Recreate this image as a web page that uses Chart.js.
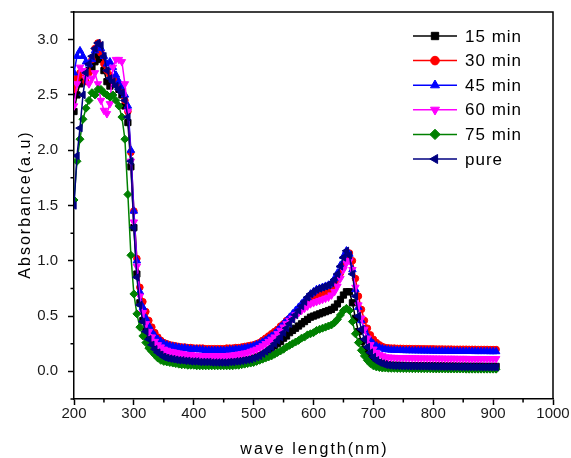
<!DOCTYPE html>
<html>
<head>
<meta charset="utf-8">
<script src="https://cdn.jsdelivr.net/npm/chart.js@4.4.1/dist/chart.umd.min.js"></script>
<style>
  html, body { margin: 0; padding: 0; background: #fff; }
  #wrap { width: 571px; height: 458px; }
</style>
</head>
<body>
<div id="wrap"><canvas id="spectra" width="571" height="458"></canvas></div>
<script>
// wavelength (nm), one reading every 5 nm
const wavelengths = [
  200,205,210,215,220,225,230,235,240,245,250,255,260,265,270,275,280,285,
  290,295,300,305,310,315,320,325,330,335,340,345,350,
  355,360,365,370,375,380,385,390,395,400,405,410,415,420,425,430,435,440,445,450,455,460,465,470,475,480,485,490,495,500,505,510,515,520,
  525,530,535,540,545,550,555,560,565,570,575,580,585,590,595,600,605,610,615,620,625,630,635,640,645,650,655,660,665,670,675,680,685,690,695,700,705,710,715,720,
  725,730,735,740,745,750,755,760,765,770,775,780,785,790,795,800,805,810,815,820,825,830,835,840,845,850,855,860,865,870,875,880,885,890,895,900,905
];

const min15 = [
  2.35,2.50,2.60,2.65,2.70,2.72,2.75,2.80,2.85,2.82,2.72,2.62,2.58,2.60,2.62,2.55,2.50,2.40,
  2.25,1.85,1.30,0.88,0.62,0.46,0.36,0.29,0.24,0.20,0.17,0.15,0.14,
  0.13,0.12,0.115,0.11,0.105,0.10,0.10,0.095,0.095,0.09,0.09,0.09,0.085,0.085,0.085,0.085,0.085,0.085,0.085,0.085,0.085,0.09,0.09,0.09,0.095,0.10,0.10,0.105,0.11,0.12,0.13,0.14,0.155,0.17,
  0.19,0.21,0.23,0.25,0.27,0.30,0.32,0.35,0.37,0.39,0.41,0.43,0.45,0.47,0.49,0.50,0.51,0.52,0.53,0.54,0.55,0.56,0.58,0.61,0.65,0.69,0.72,0.72,0.62,0.48,0.36,0.27,0.20,0.15,0.12,0.10,0.09,0.08,0.075,0.07,
  0.058,0.056,0.055,0.055,0.054,0.053,0.053,0.052,0.052,0.052,0.051,0.051,0.050,0.050,0.050,0.050,0.049,0.049,0.049,0.048,0.048,0.048,0.048,0.047,0.047,0.047,0.047,0.046,0.046,0.046,0.046,0.046,0.045,0.045,0.045,0.045,0.045
];

const min30 = [
  2.55,2.65,2.70,2.68,2.62,2.70,2.82,2.92,2.97,2.88,2.78,2.72,2.68,2.65,2.62,2.60,2.55,2.45,
  2.35,1.98,1.45,1.02,0.76,0.63,0.54,0.46,0.40,0.35,0.31,0.28,0.26,
  0.25,0.24,0.235,0.23,0.225,0.22,0.22,0.215,0.215,0.21,0.21,0.21,0.21,0.205,0.205,0.205,0.205,0.205,0.205,0.205,0.21,0.21,0.21,0.215,0.215,0.22,0.225,0.23,0.235,0.24,0.25,0.26,0.28,0.30,
  0.32,0.34,0.36,0.38,0.41,0.43,0.46,0.48,0.50,0.53,0.55,0.57,0.60,0.62,0.65,0.67,0.69,0.70,0.71,0.72,0.73,0.75,0.78,0.83,0.89,0.96,1.03,1.07,1.00,0.84,0.68,0.56,0.46,0.39,0.33,0.29,0.26,0.24,0.225,0.215,
  0.212,0.21,0.21,0.208,0.208,0.207,0.206,0.206,0.205,0.205,0.205,0.204,0.204,0.203,0.203,0.203,0.202,0.202,0.202,0.201,0.201,0.201,0.2,0.2,0.2,0.2,0.2,0.199,0.199,0.199,0.198,0.198,0.198,0.198,0.197,0.197,0.197
];

const min45 = [
  2.70,2.85,2.90,2.85,2.80,2.78,2.82,2.90,2.95,2.92,2.85,2.78,2.80,2.75,2.68,2.62,2.58,2.50,
  2.40,2.00,1.45,1.00,0.72,0.58,0.48,0.41,0.36,0.32,0.29,0.27,0.25,
  0.24,0.23,0.225,0.22,0.215,0.21,0.21,0.205,0.20,0.20,0.20,0.195,0.195,0.19,0.19,0.19,0.19,0.19,0.19,0.19,0.19,0.195,0.195,0.20,0.20,0.205,0.21,0.215,0.22,0.23,0.24,0.25,0.265,0.28,
  0.30,0.32,0.34,0.37,0.40,0.43,0.46,0.49,0.52,0.55,0.58,0.61,0.64,0.67,0.70,0.72,0.74,0.75,0.76,0.77,0.78,0.80,0.84,0.89,0.96,1.04,1.09,1.06,0.92,0.74,0.58,0.46,0.38,0.32,0.28,0.25,0.23,0.215,0.205,0.20,
  0.195,0.193,0.192,0.19,0.19,0.189,0.188,0.188,0.187,0.187,0.186,0.186,0.185,0.185,0.185,0.184,0.184,0.184,0.183,0.183,0.183,0.182,0.182,0.182,0.182,0.181,0.181,0.181,0.181,0.18,0.18,0.18,0.18,0.18,0.179,0.179,0.179
];

const min60 = [
  2.40,2.60,2.75,2.72,2.65,2.60,2.65,2.70,2.60,2.45,2.36,2.33,2.42,2.75,2.82,2.82,2.80,2.60,
  2.35,1.90,1.35,0.95,0.68,0.53,0.43,0.36,0.31,0.27,0.24,0.22,0.20,
  0.19,0.18,0.175,0.17,0.165,0.16,0.155,0.15,0.15,0.145,0.145,0.14,0.14,0.14,0.14,0.14,0.14,0.14,0.14,0.14,0.14,0.145,0.145,0.15,0.155,0.16,0.165,0.17,0.18,0.19,0.20,0.215,0.23,0.25,
  0.27,0.29,0.31,0.34,0.37,0.40,0.43,0.46,0.48,0.51,0.53,0.55,0.57,0.59,0.61,0.62,0.63,0.64,0.65,0.66,0.67,0.69,0.72,0.77,0.84,0.92,0.98,1.00,0.92,0.76,0.60,0.48,0.38,0.30,0.24,0.20,0.17,0.15,0.14,0.13,
  0.128,0.126,0.125,0.124,0.123,0.123,0.122,0.122,0.121,0.121,0.12,0.12,0.12,0.119,0.119,0.119,0.118,0.118,0.118,0.117,0.117,0.117,0.117,0.116,0.116,0.116,0.116,0.115,0.115,0.115,0.115,0.115,0.114,0.114,0.114,0.114,0.114
];

const min75 = [
  1.55,1.90,2.10,2.28,2.38,2.45,2.52,2.50,2.55,2.55,2.52,2.50,2.48,2.50,2.45,2.40,2.30,2.10,
  1.60,1.05,0.70,0.52,0.40,0.32,0.26,0.21,0.18,0.15,0.12,0.10,0.09,
  0.085,0.08,0.075,0.07,0.065,0.06,0.06,0.055,0.055,0.055,0.05,0.05,0.05,0.05,0.05,0.05,0.05,0.05,0.05,0.05,0.05,0.05,0.05,0.055,0.055,0.06,0.065,0.07,0.075,0.08,0.09,0.10,0.11,0.12,
  0.13,0.14,0.155,0.17,0.185,0.20,0.22,0.235,0.25,0.265,0.28,0.30,0.31,0.33,0.34,0.35,0.37,0.38,0.39,0.40,0.41,0.42,0.44,0.47,0.51,0.55,0.57,0.55,0.45,0.34,0.26,0.19,0.14,0.10,0.07,0.05,0.04,0.035,0.03,0.03,
  0.028,0.027,0.027,0.026,0.026,0.025,0.025,0.025,0.024,0.024,0.024,0.023,0.023,0.023,0.023,0.022,0.022,0.022,0.022,0.022,0.021,0.021,0.021,0.021,0.021,0.021,0.02,0.02,0.02,0.02,0.02,0.02,0.02,0.02,0.02,0.02,0.02
];

const pure = [
  1.50,1.95,2.20,2.50,2.70,2.78,2.85,2.92,2.97,2.95,2.85,2.72,2.65,2.62,2.58,2.55,2.52,2.45,
  2.30,1.90,1.30,0.85,0.60,0.45,0.36,0.29,0.24,0.20,0.17,0.15,0.13,
  0.12,0.115,0.11,0.105,0.10,0.10,0.095,0.095,0.09,0.09,0.09,0.085,0.085,0.085,0.085,0.08,0.08,0.08,0.08,0.08,0.08,0.085,0.085,0.09,0.09,0.095,0.10,0.105,0.11,0.12,0.13,0.14,0.16,0.18,
  0.20,0.22,0.25,0.28,0.31,0.35,0.39,0.43,0.47,0.51,0.55,0.59,0.63,0.67,0.70,0.72,0.74,0.75,0.76,0.77,0.78,0.80,0.83,0.88,0.95,1.03,1.09,1.05,0.88,0.68,0.50,0.38,0.29,0.22,0.17,0.13,0.10,0.08,0.07,0.06,
  0.055,0.052,0.05,0.05,0.049,0.048,0.048,0.047,0.046,0.046,0.045,0.045,0.045,0.044,0.044,0.043,0.043,0.043,0.042,0.042,0.042,0.041,0.041,0.041,0.04,0.04,0.04,0.04,0.039,0.039,0.039,0.038,0.038,0.038,0.038,0.037,0.037
];

const seriesNames = ['15 min', '30 min', '45 min', '60 min', '75 min', 'pure'];
const seriesValues = [min15, min30, min45, min60, min75, pure];

const xTickValues = [200, 300, 400, 500, 600, 700, 800, 900, 1000];
const xMinorValues = [250, 350, 450, 550, 650, 750, 850, 950];
const yTickValues = [0, 0.5, 1, 1.5, 2, 2.5, 3];
const yMinorValues = [-0.25, 0.25, 0.75, 1.25, 1.75, 2.25, 2.75, 3.25];

// Origin-like symbol for every series
const looks = [
  { color: '#000000', pointStyle: 'rect',     rotation: 0,   radius: 4.4 },
  { color: '#ff0000', pointStyle: 'circle',   rotation: 0,   radius: 3.3 },
  { color: '#0000ff', pointStyle: 'triangle', rotation: 0,   radius: 4.3 },
  { color: '#ff00ff', pointStyle: 'triangle', rotation: 180, radius: 4.3 },
  { color: '#008000', pointStyle: 'rectRot',  rotation: 0,   radius: 4.0 },
  { color: '#000080', pointStyle: 'triangle', rotation: -90, radius: 4.3 }
];

const FONT = '"Liberation Sans", Arial, sans-serif';

let datasets = seriesNames.map((name, i) => ({
  label: name,
  data: wavelengths.map((w, j) => ({ x: w, y: seriesValues[i][j] })),
  borderColor: looks[i].color,
  backgroundColor: looks[i].color,
  borderWidth: 1.5,
  pointStyle: looks[i].pointStyle,
  pointRotation: looks[i].rotation,
  pointRadius: looks[i].radius,
  pointBorderWidth: 1,
  pointBackgroundColor: looks[i].color,
  pointBorderColor: looks[i].color,
  tension: 0
}));
// first dataset is painted last in Chart.js, so put "pure" first to have it on top
datasets = datasets.reverse();

function drawSymbol(ctx, look, x, y, r) {
  ctx.fillStyle = look.color;
  ctx.strokeStyle = look.color;
  ctx.lineWidth = 1;
  if (Chart.helpers && Chart.helpers.drawPoint) {
    Chart.helpers.drawPoint(ctx, { pointStyle: look.pointStyle, rotation: look.rotation, radius: r, borderWidth: 1 }, x, y);
  }
}

const framePlugin = {
  id: 'frame',
  afterDraw(chart) {
    const { ctx, chartArea: a, scales } = chart;
    ctx.save();
    ctx.strokeStyle = '#000';
    ctx.lineWidth = 1.5;
    ctx.beginPath();
    ctx.moveTo(a.left, a.top);
    ctx.lineTo(a.right, a.top);
    ctx.lineTo(a.right, a.bottom);
    ctx.stroke();
    // minor ticks
    ctx.beginPath();
    xMinorValues.forEach(v => {
      const px = scales.x.getPixelForValue(v);
      ctx.moveTo(px, a.bottom);
      ctx.lineTo(px, a.bottom + 3.5);
    });
    yMinorValues.forEach(v => {
      const py = scales.y.getPixelForValue(v);
      ctx.moveTo(a.left, py);
      ctx.lineTo(a.left - 3.5, py);
    });
    ctx.stroke();

    // axis titles
    ctx.fillStyle = '#000';
    ctx.font = '16px ' + FONT;
    ctx.letterSpacing = '2px';
    ctx.textAlign = 'center';
    ctx.textBaseline = 'alphabetic';
    ctx.fillText('wave length(nm)', (a.left + a.right) / 2 + 1, 454);
    ctx.save();
    ctx.translate(30, (a.top + a.bottom) / 2);
    ctx.rotate(-Math.PI / 2);
    ctx.fillText('Absorbance(a.u)', 1, 0);
    ctx.restore();

    // legend: line with symbol in the middle
    ctx.font = '17px ' + FONT;
    ctx.letterSpacing = '1px';
    ctx.textAlign = 'left';
    ctx.textBaseline = 'middle';
    const lx = a.right - 140;
    seriesNames.forEach((name, i) => {
      const ly = a.top + 24 + i * 24.6;
      ctx.strokeStyle = looks[i].color;
      ctx.lineWidth = 1.5;
      ctx.beginPath();
      ctx.moveTo(lx, ly);
      ctx.lineTo(lx + 44, ly);
      ctx.stroke();
      drawSymbol(ctx, looks[i], lx + 22, ly, looks[i].pointStyle === 'circle' ? 4.3 : 5.2);
      ctx.fillStyle = '#000';
      ctx.fillText(name, lx + 52, ly + 1);
    });
    ctx.restore();
  }
};

new Chart(document.getElementById('spectra'), {
  type: 'line',
  data: { datasets: datasets },
  options: {
    responsive: false,
    animation: false,
    devicePixelRatio: 1,
    layout: { padding: { top: 12, right: 18, left: 0, bottom: 0 } },
    plugins: { legend: { display: false }, tooltip: { enabled: false } },
    scales: {
      x: {
        type: 'linear',
        min: 200,
        max: 1000,
        afterBuildTicks: s => { s.ticks = xTickValues.map(v => ({ value: v })); },
        afterFit: s => { s.height = 59; s.paddingLeft = 0; s.paddingRight = 0; },
        ticks: {
          color: '#1a1a1a',
          font: { family: FONT, size: 15 },
          padding: 0,
          maxRotation: 0,
          autoSkip: false,
          callback: v => String(v)
        },
        grid: { drawOnChartArea: false, drawTicks: true, tickLength: 6, tickWidth: 1.5, tickColor: '#000', color: '#000' },
        border: { display: true, color: '#000', width: 1.5 }
      },
      y: {
        type: 'linear',
        min: -0.25,
        max: 3.25,
        afterBuildTicks: s => { s.ticks = yTickValues.map(v => ({ value: v })); },
        afterFit: s => { s.width = 74; s.paddingTop = 0; s.paddingBottom = 0; },
        ticks: {
          color: '#1a1a1a',
          font: { family: FONT, size: 15 },
          padding: 10,
          autoSkip: false,
          callback: v => Number(v).toFixed(1)
        },
        grid: { drawOnChartArea: false, drawTicks: true, tickLength: 6, tickWidth: 1.5, tickColor: '#000', color: '#000' },
        border: { display: true, color: '#000', width: 1.5 }
      }
    }
  },
  plugins: [framePlugin]
});
</script>
</body>
</html>
